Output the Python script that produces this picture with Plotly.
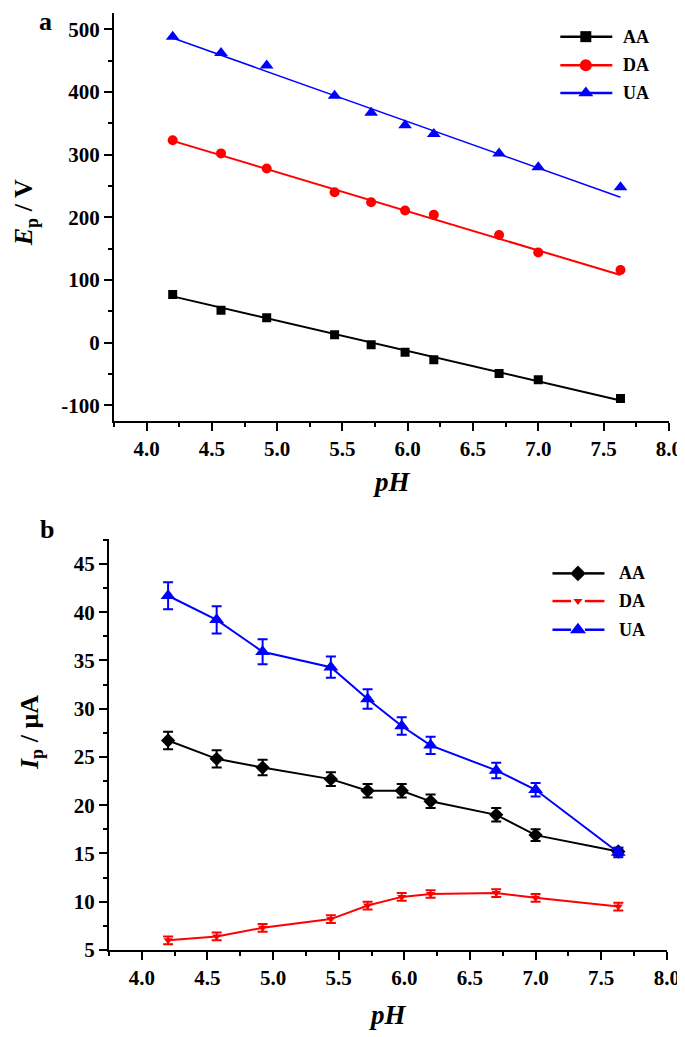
import plotly.graph_objects as go


# ---------------------------------------------------
# Data
# ---------------------------------------------------

ph = [4.2, 4.57, 4.92, 5.44, 5.72, 5.98, 6.2, 6.7, 7.0, 7.63]

# panel a: peak potential
ep_aa = [77, 52, 40, 13, -3, -15, -27, -49, -59, -89]
ep_da = [323, 302, 278, 240, 224, 211, 204, 172, 144, 116]
ep_ua = [488, 462, 442, 394, 367, 347, 333, 302, 280, 248]

# fitted lines (end points)
fit_ph = [4.2, 7.63]
fit_aa = [74, -92]
fit_da = [322, 108]
fit_ua = [486, 232]

# panel b: peak current with error bars
ip_aa = [26.7, 24.8, 23.9, 22.7, 21.5, 21.5, 20.4, 19.0, 16.9, 15.2]
ip_aa_err = [0.9, 0.9, 0.8, 0.7, 0.7, 0.7, 0.7, 0.7, 0.6, 0.4]
ip_da = [6.0, 6.4, 7.3, 8.2, 9.6, 10.5, 10.8, 10.9, 10.4, 9.5]
ip_da_err = [0.4, 0.4, 0.4, 0.4, 0.4, 0.4, 0.4, 0.4, 0.4, 0.4]
ip_ua = [41.7, 39.2, 35.9, 34.3, 31.0, 28.2, 26.2, 23.6, 21.6, 15.1]
ip_ua_err = [1.4, 1.4, 1.3, 1.1, 1.0, 0.9, 0.9, 0.8, 0.7, 0.5]

ep_ticks = [-100, 0, 100, 200, 300, 400, 500]
ip_ticks = [5, 10, 15, 20, 25, 30, 35, 40, 45]

names = ["AA", "DA", "UA"]
colors = ["#000000", "#ff0000", "#0000ff"]

W, H = 685, 1037
FONT = "Liberation Serif"


def px_x(x):
    return x / W


def px_y(y):
    return 1 - y / H


fig = go.Figure()

# ---------------------------------------------------
# Panel a
# ---------------------------------------------------

for fit, col, lw in zip([fit_aa, fit_da, fit_ua], colors, [2, 2, 1.5]):
    fig.add_trace(go.Scatter(
        x=fit_ph, y=fit, mode="lines",
        line=dict(color=col, width=lw),
        xaxis="x", yaxis="y", showlegend=False
    ))

for vals, col, sym, size in zip(
        [ep_aa, ep_da, ep_ua], colors,
        ["square", "circle", "triangle-up"], [9, 10, 12]):
    fig.add_trace(go.Scatter(
        x=ph, y=vals, mode="markers",
        marker=dict(color=col, symbol=sym, size=size),
        xaxis="x", yaxis="y", showlegend=False
    ))

# ---------------------------------------------------
# Panel b
# ---------------------------------------------------

for vals, err, col, sym, size in zip(
        [ip_aa, ip_da, ip_ua], [ip_aa_err, ip_da_err, ip_ua_err], colors,
        ["diamond", "triangle-down", "triangle-up"], [11, 8, 13]):
    fig.add_trace(go.Scatter(
        x=ph, y=vals, mode="lines+markers",
        line=dict(color=col, width=2),
        marker=dict(color=col, symbol=sym, size=size),
        error_y=dict(type="data", array=err, color=col, thickness=2, width=5),
        xaxis="x2", yaxis="y2", showlegend=False
    ))

# ---------------------------------------------------
# Hand-drawn legends
# ---------------------------------------------------

shapes = []
annotations = []

leg_a_rows = [29, 58, 86]
leg_b_rows = [572, 600, 629]


def label(text, x, y, size, **kw):
    d = dict(text=text, x=px_x(x), y=px_y(y), xref="paper", yref="paper",
             xanchor="center", yanchor="middle", showarrow=False,
             font=dict(family=FONT, size=size, color="black"))
    d.update(kw)
    return d


for i, (name, col) in enumerate(zip(names, colors)):
    # panel a: continuous line through the symbol
    y = leg_a_rows[i]
    shapes.append(dict(type="line", xref="paper", yref="paper",
                       x0=px_x(563), x1=px_x(616), y0=px_y(y), y1=px_y(y),
                       line=dict(color=col, width=2.5)))
    annotations.append(label("<b>%s</b>" % name, 625, y, 18, xanchor="left"))
    # panel b: line broken around the symbol
    y = leg_b_rows[i]
    for x0, x1 in [(555, 574), (588, 608)]:
        shapes.append(dict(type="line", xref="paper", yref="paper",
                           x0=px_x(x0), x1=px_x(x1), y0=px_y(y), y1=px_y(y),
                           line=dict(color=col, width=2.5)))
    annotations.append(label("<b>%s</b>" % name, 621, y, 18, xanchor="left"))

for i, (col, sym, size) in enumerate(zip(colors, ["square", "circle", "triangle-up"], [11, 12, 13])):
    fig.add_trace(go.Scatter(
        x=[px_x(589)], y=[px_y(leg_a_rows[i])], mode="markers",
        marker=dict(color=col, symbol=sym, size=size),
        xaxis="x3", yaxis="y3", showlegend=False, hoverinfo="skip"
    ))

for i, (col, sym, size) in enumerate(zip(colors, ["diamond", "triangle-down", "triangle-up"], [12, 8, 14])):
    fig.add_trace(go.Scatter(
        x=[px_x(581)], y=[px_y(leg_b_rows[i])], mode="markers",
        marker=dict(color=col, symbol=sym, size=size),
        xaxis="x3", yaxis="y3", showlegend=False, hoverinfo="skip"
    ))

# ---------------------------------------------------
# Axis titles and panel letters
# ---------------------------------------------------

annotations += [
    label("<b>a</b>", 38, 14, 26),
    label("<b>b</b>", 40, 528, 26),
    label("<b><i>pH</i></b>", 391, 480, 27),
    label("<b><i>pH</i></b>", 387, 1019, 27),
    label("<b><i>E</i><sub>p</sub> / V</b>", 17, 207, 26, textangle=-90),
    label("<b><i>I</i><sub>p</sub> / \u03bcA</b>", 23, 733, 26, textangle=-90),
]

# ---------------------------------------------------
# Axes
# ---------------------------------------------------

def axis_style(dtick, minor_dtick):
    return dict(
        showgrid=False, zeroline=False,
        showline=True, linecolor="black", linewidth=2,
        ticks="outside", ticklen=8, tickwidth=2, tickcolor="black",
        dtick=dtick,
        minor=dict(ticks="outside", ticklen=4, tickwidth=2,
                   tickcolor="black", dtick=minor_dtick),
        tickfont=dict(family=FONT, size=21, color="black", weight="bold"),
    )


xa = axis_style(0.5, 0.25)
xa.update(domain=[px_x(108), px_x(674)], range=[3.75, 8.003], anchor="y",
          tick0=4.0, tickformat=".1f")
ya = axis_style(100, 50)
ya.update(domain=[px_y(418), px_y(5)], range=[-125, 526], anchor="x",
          tickmode="array", tickvals=ep_ticks, ticktext=[str(v) for v in ep_ticks],
          minor=dict(ticks="outside", ticklen=4, tickwidth=2,
                     tickcolor="black", tick0=50, dtick=100))

xb = axis_style(0.5, 0.25)
xb.update(domain=[px_x(103), px_x(672)], range=[3.75, 8.003], anchor="y2",
          tick0=4.0, tickformat=".1f")
yb = axis_style(5, 2.5)
yb.update(domain=[px_y(953), px_y(537)], range=[5, 47.6], anchor="x2",
          tickmode="array", tickvals=ip_ticks, ticktext=[str(v) for v in ip_ticks],
          minor=dict(ticks="outside", ticklen=4, tickwidth=2,
                     tickcolor="black", tick0=2.5, dtick=5))

fig.update_layout(
    width=W, height=H,
    margin=dict(l=0, r=0, t=0, b=0),
    paper_bgcolor="white", plot_bgcolor="rgba(0,0,0,0)",
    showlegend=False,
    xaxis=xa, yaxis=ya,
    xaxis2=xb, yaxis2=yb,
    xaxis3=dict(domain=[0, 1], range=[0, 1], visible=False, anchor="y3"),
    yaxis3=dict(domain=[0, 1], range=[0, 1], visible=False, anchor="x3"),
    shapes=shapes,
    annotations=annotations,
)

fig.write_html("out.html")
